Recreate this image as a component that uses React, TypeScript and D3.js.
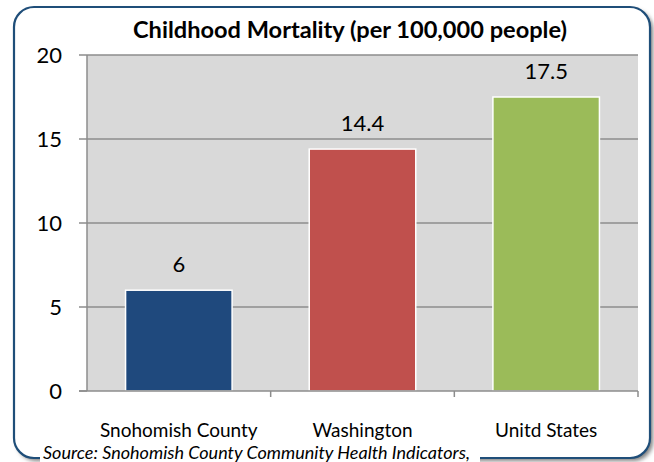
import React from "react";
import * as d3 from "d3";

const categories = ["Snohomish County", "Washington", "Unitd States"];
const values = [6, 14.4, 17.5];
const valueLabels = ["6", "14.4", "17.5"];
const colors = ["#1F497D", "#C0504D", "#9BBB59"];
const yTicks = [0, 5, 10, 15, 20];
const title = "Childhood Mortality (per 100,000 people)";
const source = "Source:  Snohomish County Community Health Indicators,";

export default function App() {
  const W = 654, H = 462;
  const left = 87, right = 638, top = 55, bottom = 391;
  const x = d3.scaleBand<string>().domain(categories).range([left, right]).paddingInner(0.42).paddingOuter(0.21);
  const xb = d3.scaleBand<string>().domain(categories).range([left, right]);
  const y = d3.scaleLinear().domain([0, 20]).range([bottom, top]);
  const font = "Lato, 'Open Sans', sans-serif";
  return (
    <svg width={W} height={H} style={{ position: "absolute", left: 0, top: 0 }}>
      <defs>
        <filter id="sh" x="-5%" y="-5%" width="115%" height="115%">
          <feGaussianBlur stdDeviation="2" />
        </filter>
      </defs>
      <rect x={0} y={0} width={W} height={H} fill="#fff" />
      <rect x={17} y={10} width={636} height={451} rx={20} fill="#7f7f7f" filter="url(#sh)" />
      <rect x={14} y={7} width={636} height={451} rx={20} fill="#fff" stroke="#1F4E79" strokeWidth={2.2} />
      <text x={350} y={38} textAnchor="middle" fontFamily={font} fontWeight="bold" fontSize={23}
        textLength={434} lengthAdjust="spacingAndGlyphs" fill="#000">{title}</text>
      <rect x={left} y={top} width={right - left} height={bottom - top} fill="#D9D9D9" />
      {yTicks.filter(t => t > 0).map(t => (
        <line key={t} x1={left} x2={right} y1={y(t)} y2={y(t)} stroke="#8C8C8C" strokeWidth={1.5} />
      ))}
      {yTicks.map(t => (
        <g key={"t" + t}>
          <line x1={79} x2={left} y1={y(t)} y2={y(t)} stroke="#8C8C8C" strokeWidth={1.5} />
          <text x={62} y={y(t) + 8} textAnchor="end" fontFamily={font} fontSize={22} fill="#000">{t}</text>
        </g>
      ))}
      {categories.map((c, i) => (
        <g key={c}>
          <rect x={x(c)} y={y(values[i])} width={x.bandwidth()} height={bottom - y(values[i])}
            fill={colors[i]} stroke="#fff" strokeWidth={1.5} />
          <text x={x(c)! + x.bandwidth() / 2} y={y(values[i]) - 18} textAnchor="middle"
            fontFamily={font} fontSize={22} fill="#000">{valueLabels[i]}</text>
          <text x={xb(c)! + xb.bandwidth() / 2} y={437} textAnchor="middle"
            fontFamily={font} fontSize={19} fill="#000">{c}</text>
        </g>
      ))}
      <line x1={left} x2={left} y1={top} y2={bottom} stroke="#8C8C8C" strokeWidth={1.5} />
      <line x1={79} x2={right} y1={bottom} y2={bottom} stroke="#8C8C8C" strokeWidth={1.5} />
      {categories.map((c, i) => (
        <line key={"xt" + i} x1={xb(c)! + xb.bandwidth()} x2={xb(c)! + xb.bandwidth()} y1={bottom} y2={bottom + 6}
          stroke="#8C8C8C" strokeWidth={1.5} />
      ))}
      <rect x={40} y={444} width={440} height={18} fill="#fff" />
      <text x={43} y={459} fontFamily={font} fontStyle="italic" fontSize={17} fill="#000"
        textLength={427} lengthAdjust="spacingAndGlyphs">{source}</text>
    </svg>
  );
}
